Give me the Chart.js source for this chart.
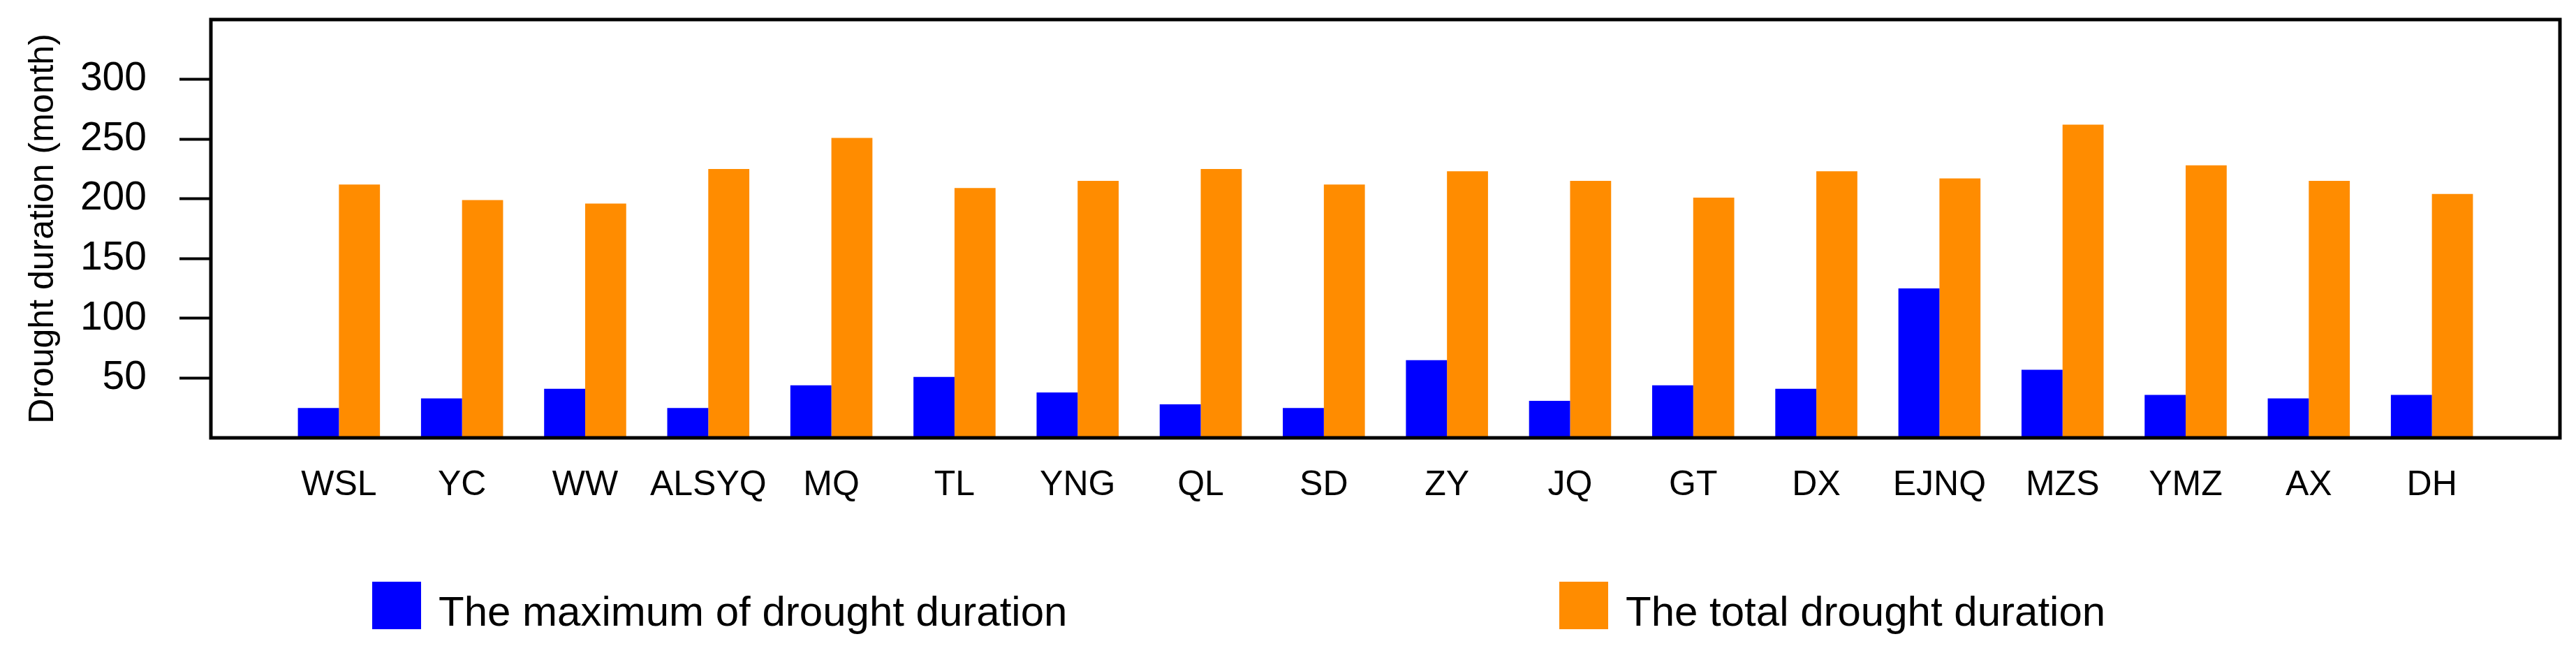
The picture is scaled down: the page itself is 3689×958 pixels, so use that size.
<!DOCTYPE html>
<html>
<head>
<meta charset="utf-8">
<script src="https://cdn.jsdelivr.net/npm/chart.js@4"></script>
<style>
  body { margin: 0; background: #fff; }
  canvas { display: block; }
</style>
</head>
<body>
<canvas id="droughtChart" width="3689" height="958"></canvas>
<script>
// stations along the x axis
const stations = ['WSL', 'YC', 'WW', 'ALSYQ', 'MQ', 'TL', 'YNG', 'QL', 'SD',
                  'ZY', 'JQ', 'GT', 'DX', 'EJNQ', 'MZS', 'YMZ', 'AX', 'DH'];
// months
const maxDuration = [25, 33, 41, 25, 44, 51, 38, 28, 25, 65, 31, 44, 41, 125, 57, 36, 33, 36];
const totalDuration = [212, 199, 196, 225, 251, 209, 215, 225, 212, 223, 215, 201, 223, 217, 262, 228, 215, 204];
const yTicks = [50, 100, 150, 200, 250, 300];

const fontFamily = '"Liberation Sans", Arial, sans-serif';

// box round the plot area
const frame = {
  id: 'frame',
  afterDraw(chart) {
    const { ctx, chartArea: a } = chart;
    ctx.save();
    ctx.strokeStyle = '#000';
    ctx.lineWidth = 5;
    ctx.strokeRect(a.left, a.top, a.right - a.left, a.bottom - a.top);
    ctx.restore();
  }
};

// two legend entries spread out under the plot
const wideLegend = {
  id: 'wideLegend',
  afterDraw(chart) {
    const { ctx, chartArea: a } = chart;
    const starts = [a.left + 231, a.left + 1931];
    ctx.save();
    ctx.font = '60px ' + fontFamily;
    ctx.textBaseline = 'alphabetic';
    chart.data.datasets.forEach((ds, i) => {
      ctx.fillStyle = ds.backgroundColor;
      ctx.fillRect(starts[i], 833, 70, 68);
      ctx.fillStyle = '#000';
      ctx.fillText(ds.label, starts[i] + 95, 896);
    });
    ctx.restore();
  }
};

const ctx = document.getElementById('droughtChart').getContext('2d');
const chart = new Chart(ctx, {
  type: 'bar',
  data: {
    labels: stations,
    datasets: [{
      label: 'The maximum of drought duration',
      data: maxDuration,
      backgroundColor: '#0000FF'
    }, {
      label: 'The total drought duration',
      data: totalDuration,
      backgroundColor: '#FF8C00'
    }]
  },
  options: {
    responsive: false,
    animation: false,
    devicePixelRatio: 1,
    layout: { padding: { top: 28, right: 23, bottom: 231, left: 0 } },
    datasets: { bar: { categoryPercentage: 2 / 3, barPercentage: 1 } },
    plugins: {
      legend: { display: false },
      tooltip: { enabled: false }
    },
    scales: {
      x: {
        grid: { display: false },
        border: { display: false },
        ticks: {
          color: '#000',
          padding: 30,
          maxRotation: 0,
          autoSkip: false,
          font: { family: fontFamily, size: 50 }
        },
        afterBuildTicks: function (scale) {
          // leave extra room at both ends like the original plot
          scale._startValue = -1.04;
          scale._valueRange = 19.08;
        },
        afterFit: function (scale) {
          scale.height = 100;
          scale.paddingLeft = 0;
          scale.paddingRight = 0;
        }
      },
      y: {
        min: 0,
        max: 350,
        grid: {
          drawOnChartArea: false,
          drawTicks: true,
          tickLength: 45,
          tickWidth: 4,
          color: '#000'
        },
        border: { display: false },
        ticks: {
          color: '#000',
          padding: 47,
          font: { family: fontFamily, size: 57 }
        },
        afterBuildTicks: function (scale) {
          scale.ticks = yTicks.map((v) => ({ value: v }));
        },
        title: {
          display: true,
          text: 'Drought duration (month)',
          color: '#000',
          padding: { top: 32, bottom: 0 },
          font: { family: fontFamily, size: 50 }
        },
        afterFit: function (scale) {
          scale.width = 302;
          scale.paddingTop = 0;
          scale.paddingBottom = 0;
        }
      }
    }
  },
  plugins: [frame, wideLegend]
});
</script>
</body>
</html>
